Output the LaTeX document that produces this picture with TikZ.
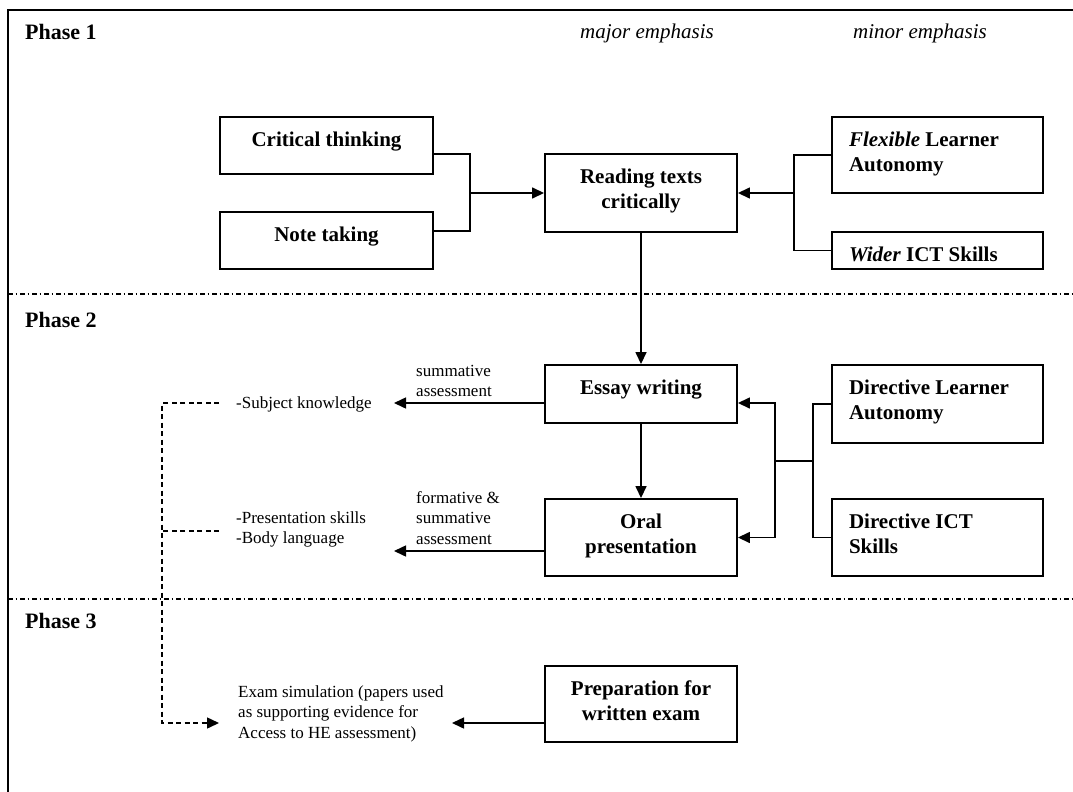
\documentclass[tikz,border=0pt]{standalone}
\usepackage{fontspec}
\setmainfont{Liberation Serif}
\usetikzlibrary{arrows.meta,calc}
\newcommand{\bxc}[3]{\parbox[c][#2][t]{#1}{\centering\rule{0pt}{29pt}#3}}
\newcommand{\bxl}[3]{\parbox[c][#2][t]{#1}{\raggedright\leftskip=17pt\rule{0pt}{29pt}#3}}
\newcommand{\tl}[1]{\begin{tabular}[t]{@{}l@{}}#1\end{tabular}}
\begin{document}
\begin{tikzpicture}[x=1pt,y=-1pt,
 box/.style={draw,line width=1.9pt,inner sep=0pt,font=\fontsize{21}{25}\selectfont\bfseries},
 conn/.style={line width=1.5pt},
 arr/.style={conn,-{Triangle[length=12pt,width=11pt]}},
 dsh/.style={line width=1.5pt,dash pattern=on 5pt off 3.5pt},
 phase/.style={font=\fontsize{22}{26}\selectfont\bfseries,inner sep=0pt,anchor=base west},
 emphl/.style={font=\fontsize{21}{25}\selectfont\itshape,inner sep=0pt,anchor=base},
 small/.style={font=\fontsize{17}{20.5}\selectfont,inner sep=0pt,anchor=base west},
 sepline/.style={line width=1.5pt,dash pattern=on 5pt off 2.7pt on 1.6pt off 2.7pt}]
\useasboundingbox (0,0) rectangle (1073,792);
\draw[line width=2.2pt] (8,792) -- (8,10) -- (1073,10);
\draw[sepline] (8,294) -- (1073,294);
\draw[sepline] (8,599) -- (1073,599);

\node[phase] (p1) at (25,40) {Phase 1};
\node[phase] (p2) at (25,327) {Phase 2};
\node[phase] (p3) at (25,628) {Phase 3};
\node[emphl] (maj) at (647,39) {major emphasis};
\node[emphl] (mnr) at (920,39) {minor emphasis};

\node[box] (ct) at (326.5,145.5) {\bxc{213pt}{57pt}{Critical thinking}};
\node[box] (nt) at (326.5,240.5) {\bxc{213pt}{57pt}{Note taking}};
\node[box] (rd) at (641,193) {\bxc{192pt}{78pt}{Reading texts\\critically}};
\node[box] (fla) at (937.5,155) {\bxl{211pt}{76pt}{\textit{Flexible} Learner\\Autonomy}};
\node[box] (wis) at (937.5,250.5) {\bxl{211pt}{37pt}{\textit{Wider} ICT Skills}};
\node[box] (ew) at (641,394) {\bxc{192pt}{58pt}{Essay writing}};
\node[box] (op) at (641,537.5) {\bxc{192pt}{77pt}{Oral\\presentation}};
\node[box] (dla) at (937.5,404) {\bxl{211pt}{78pt}{Directive Learner\\Autonomy}};
\node[box] (dis) at (937.5,537.5) {\bxl{211pt}{77pt}{Directive ICT\\Skills}};
\node[box] (pw) at (641,704) {\bxc{192pt}{76pt}{Preparation for\\written exam}};

\node[small] (sa) at (416,376) {\tl{summative\\assessment}};
\node[small] (fa) at (416,503) {\tl{formative \&\\summative\\assessment}};
\node[small] (sk) at (236,408) {-Subject knowledge};
\node[small] (ps) at (236,523) {\tl{-Presentation skills\\-Body language}};
\node[small] (ex) at (238,697) {\tl{Exam simulation (papers used\\as supporting evidence for\\Access to HE assessment)}};

\coordinate (j1) at (470,193);
\draw[conn] ([yshift=-8.5pt]ct.east) -| (j1) |- ([yshift=9.5pt]nt.east);
\draw[arr] (j1) -- (rd.west);
\coordinate (j2) at (794,193);
\draw[conn] (fla.west) -| (j2) |- (wis.west);
\draw[arr] (j2) -- (rd.east);
\draw[arr] (rd.south) -- (ew.north);
\draw[arr] (ew.south) -- (op.north);
\coordinate (j3) at (813,461);
\coordinate (j4) at (775,461);
\draw[conn] (dla.west) -| (j3) |- (dis.west);
\draw[conn] (j3) -- (j4);
\draw[arr] (j4) |- ([yshift=-9pt]ew.east);
\draw[arr] (j4) |- (op.east);

\coordinate (skR) at (394,403);
\draw[arr] ([yshift=-9pt]ew.west) -- (skR);
\coordinate (psR) at (394,551);
\draw[arr] ([yshift=-13.5pt]op.west) -- (psR);
\coordinate (exR) at (452,723);
\draw[arr] ([yshift=-19pt]pw.west) -- (exR);

\coordinate (d1) at (219,403);
\coordinate (d3) at (219,531);
\coordinate (d4) at (219,723);
\coordinate (dv) at (162,723);
\draw[dsh,-{Triangle[length=12pt,width=11pt]}] (d1) -| (dv) -- (d4);
\draw[dsh] (d3) -- (d3 -| dv);
\end{tikzpicture}
\end{document}
